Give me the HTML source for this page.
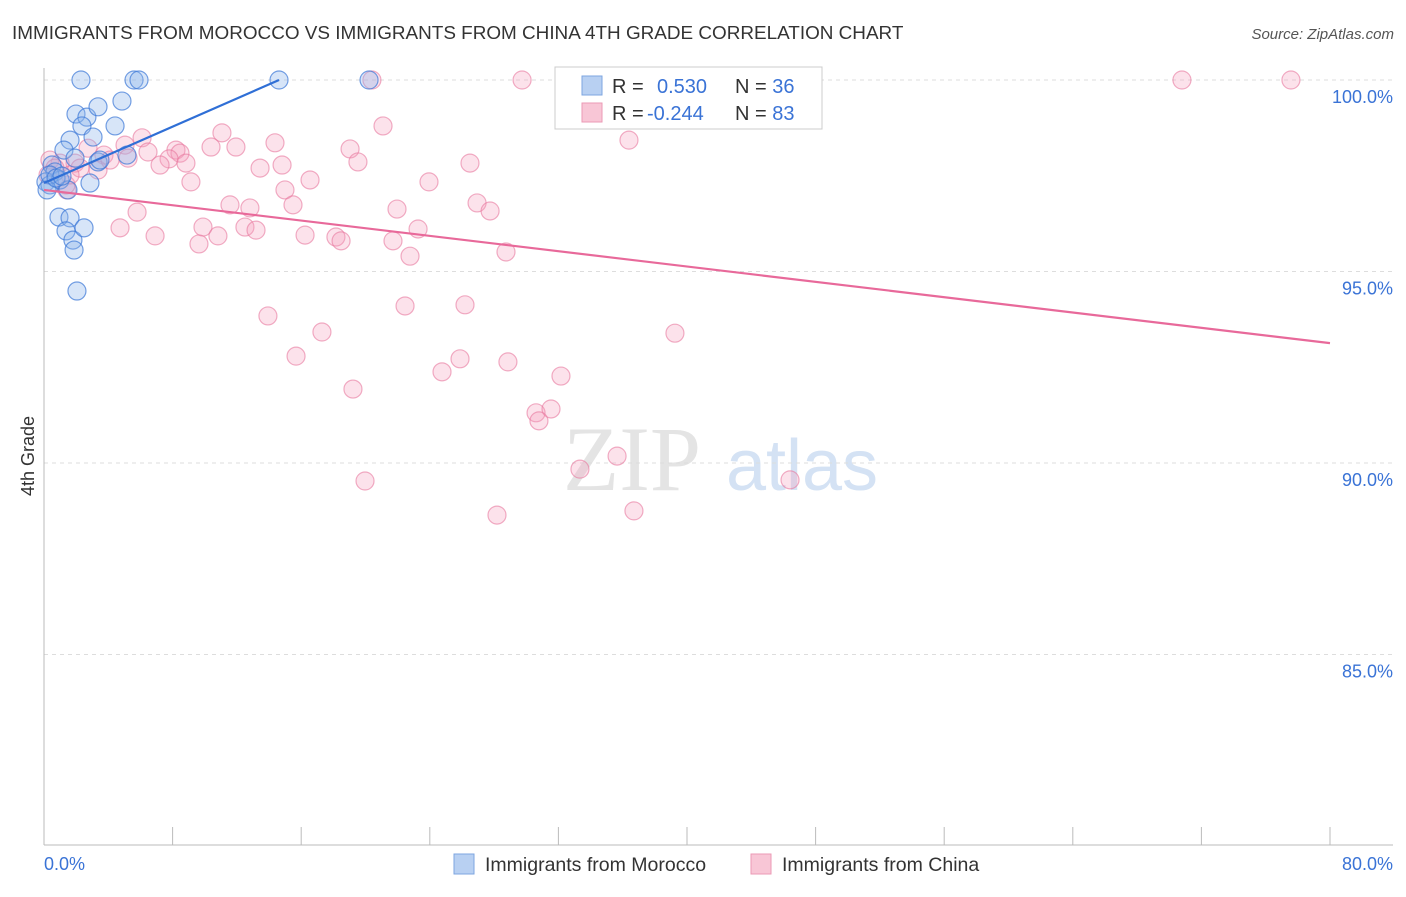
<!DOCTYPE html>
<html><head><meta charset="utf-8"><style>
body{margin:0;background:#fff;font-family:"Liberation Sans",sans-serif}
svg text{font-family:"Liberation Sans",sans-serif}
</style></head><body>
<svg id="c" width="1406" height="892" xmlns="http://www.w3.org/2000/svg">
<text x="12" y="39" font-size="18.9" fill="#333">IMMIGRANTS FROM MOROCCO VS IMMIGRANTS FROM CHINA 4TH GRADE CORRELATION CHART</text>
<text x="1394" y="39" font-size="15" fill="#555" text-anchor="end" font-style="italic">Source: ZipAtlas.com</text>
<text x="34" y="456" font-size="18" fill="#333" transform="rotate(-90 34 456)" text-anchor="middle">4th Grade</text>
<g>
<text x="632" y="490" font-size="92" fill="#e4e4e4" font-family="Liberation Serif" text-anchor="middle" style="font-family:'Liberation Serif',serif">ZIP</text>
<text x="802" y="490" font-size="72" fill="#d4e2f4" text-anchor="middle">atlas</text>
</g>
<g id="grid"></g><g id="axes"></g><g id="pts"></g><g id="lines"></g>
<g>
<rect x="555" y="67" width="267" height="62" fill="#fff" stroke="#ccc"/>
<rect x="582" y="76" width="20" height="19" fill="#b8d0f2" stroke="#7ea6e0"/>
<rect x="582" y="103" width="20" height="19" fill="#f8c6d6" stroke="#eb9ab5"/>
<text x="612" y="93" font-size="20" fill="#333">R = <tspan fill="#3a73d6" x="657">0.530</tspan><tspan x="735" fill="#333">N = </tspan><tspan fill="#3a73d6">36</tspan></text>
<text x="612" y="120" font-size="20" fill="#333">R = <tspan fill="#3a73d6" x="647">-0.244</tspan><tspan x="735" fill="#333">N = </tspan><tspan fill="#3a73d6">83</tspan></text>
</g>
<g>
<rect x="454" y="854" width="20" height="20" fill="#b8d0f2" stroke="#7ea6e0"/>
<text x="485" y="871" font-size="19.5" fill="#333">Immigrants from Morocco</text>
<rect x="751" y="854" width="20" height="20" fill="#f8c6d6" stroke="#eb9ab5"/>
<text x="782" y="871" font-size="19.5" fill="#333">Immigrants from China</text>
</g>
</svg>
<script>
const yTicks=[100,95,90,85];
const yTickLabels=["100.0%","95.0%","90.0%","85.0%"];
const xTicks=[0,8,16,24,32,40,48,56,64,72,80];
const xEndLabels=["0.0%","80.0%"];
const moroccoX=[2.30,5.60,5.91,14.62,20.22,1.99,2.67,3.36,4.85,4.42,2.36,1.62,3.05,1.24,1.93,5.16,3.36,0.50,0.68,0.12,0.37,1.00,1.49,2.86,0.93,1.62,1.37,1.80,1.87,2.49,2.05,0.37,0.19,0.75,1.12,3.48];
const moroccoY=[100,100,100,100,100,99.11,99.03,99.30,99.45,98.80,98.80,98.43,98.51,98.17,97.96,98.04,97.86,97.78,97.60,97.34,97.26,97.39,97.13,97.31,96.42,96.40,96.06,95.82,95.56,96.14,94.49,97.52,97.13,97.44,97.49,97.91];
const chinaX=[29.74,32.97,70.79,77.57,20.40,36.39,21.09,6.10,11.07,14.37,10.39,11.94,19.04,2.74,3.73,5.04,6.47,8.21,8.46,7.78,8.83,7.22,14.81,13.44,19.53,26.50,5.23,1.93,1.00,3.36,4.11,9.14,16.55,14.99,23.95,26.94,27.75,21.96,11.57,12.81,15.49,5.79,12.50,13.19,9.89,4.73,6.91,10.82,9.64,16.24,18.16,18.48,21.71,23.27,22.77,28.74,13.93,17.29,22.46,26.19,39.25,15.68,25.88,28.86,24.76,32.16,19.22,30.61,31.54,30.79,33.34,35.65,19.97,46.41,28.18,36.70,1.43,0.37,0.68,0.25,1.37,2.24,1.62];
const chinaY=[100,100,100,100,100,98.43,98.80,98.49,98.62,98.36,98.25,98.25,98.20,98.22,98.04,98.30,98.12,98.17,98.09,97.94,97.83,97.78,97.78,97.70,97.86,97.83,97.96,97.83,97.83,97.65,97.91,97.34,97.39,97.13,97.34,96.79,96.58,96.63,96.74,96.66,96.74,96.55,96.16,96.08,96.16,96.14,95.93,95.93,95.72,95.95,95.90,95.80,95.80,96.11,95.40,95.51,93.84,93.42,94.10,94.13,93.39,92.79,92.72,92.64,92.38,92.27,91.93,91.31,91.41,91.10,89.84,90.18,89.53,89.56,88.64,88.75,97.13,97.91,97.70,97.52,97.26,97.70,97.52];
const moroccoTrendX=[0,14.62];
const moroccoTrendY=[97.31,100];
const chinaTrendX=[0,80];
const chinaTrendY=[97.13,93.13];
const NS="http://www.w3.org/2000/svg";
const sx=v=>44+v*16.075, sy=v=>80+(100-v)*38.3;
function mk(tag,attrs,parent){const e=document.createElementNS(NS,tag);for(const k in attrs)e.setAttribute(k,attrs[k]);document.getElementById(parent).appendChild(e);return e;}
yTicks.forEach((t,i)=>{
 const g=mk('line',{x1:44,x2:1393,y1:sy(t),y2:sy(t),stroke:'#ddd','stroke-dasharray':'4,4'},'grid');
 
 
 const tx=mk('text',{x:1393,y:sy(t)+23,'font-size':18,fill:'#3a73d6','text-anchor':'end'},'axes');
 tx.textContent=yTickLabels[i];
 
 
});
const ax=mk('line',{x1:44,x2:44,y1:68,y2:845,stroke:'#bbb'},'axes');


const bx=mk('line',{x1:44,x2:1393,y1:845,y2:845,stroke:'#bbb'},'axes');


xTicks.forEach(v=>{const l=mk('line',{x1:sx(v),x2:sx(v),y1:827,y2:845,stroke:'#bbb'},'axes');
 
 });
[[0,'start',44],[80,'end',1393]].forEach((d,i)=>{const t=mk('text',{x:d[2],y:870,'font-size':18,fill:'#3a73d6','text-anchor':d[1]},'axes');t.textContent=xEndLabels[i];
 
 });
chinaX.forEach((x,i)=>{const c=mk('circle',{cx:sx(x),cy:sy(chinaY[i]),r:9,fill:'rgba(244,160,188,0.3)',stroke:'rgba(232,120,158,0.6)','stroke-width':1.2},'pts');
 
 });
moroccoX.forEach((x,i)=>{const c=mk('circle',{cx:sx(x),cy:sy(moroccoY[i]),r:9,fill:'rgba(140,180,236,0.35)',stroke:'rgba(60,120,215,0.7)','stroke-width':1.2},'pts');
 
 });
const l1=mk('line',{x1:sx(chinaTrendX[0]),y1:sy(chinaTrendY[0]),x2:sx(chinaTrendX[1]),y2:sy(chinaTrendY[1]),stroke:'#e8699a','stroke-width':2.2},'lines');


const l2=mk('line',{x1:sx(moroccoTrendX[0]),y1:sy(moroccoTrendY[0]),x2:sx(moroccoTrendX[1]),y2:sy(moroccoTrendY[1]),stroke:'#2f6fd6','stroke-width':2.2},'lines');


</script>
</body></html>
